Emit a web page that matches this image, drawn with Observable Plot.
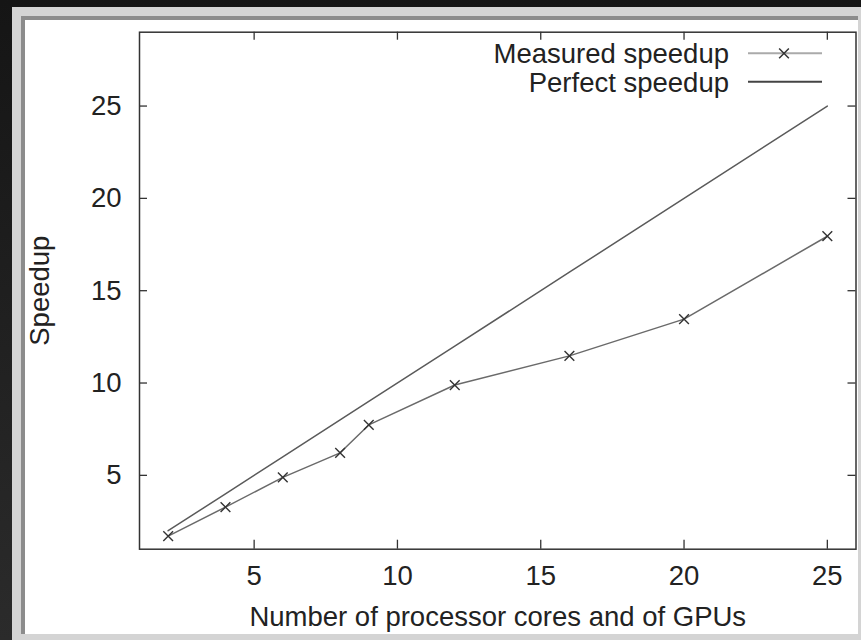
<!DOCTYPE html>
<html><head><meta charset="utf-8">
<script src="https://cdn.jsdelivr.net/npm/d3@7"></script>
<script src="https://cdn.jsdelivr.net/npm/@observablehq/plot@0.6"></script>
<style>
html,body{margin:0;padding:0;}
body{width:861px;height:640px;overflow:hidden;background:linear-gradient(#151515,#2b2b2b);position:relative;font-family:"Liberation Sans",Arial,sans-serif;}
#panel{position:absolute;left:12px;top:7px;width:849px;height:633px;background:#d4d4d4;}
#inner{position:absolute;left:9px;top:9px;right:3px;bottom:6px;background:#fff;border-left:4px solid #8c8c8c;border-top:4px solid #8c8c8c;}
#chart{position:absolute;left:0;top:0;}
.lg{position:absolute;font-size:27.5px;line-height:30px;color:#222;white-space:nowrap;text-align:right;}
#lgsvg{position:absolute;left:740px;top:40px;}
</style>
</head><body>
<div id="panel"><div id="inner"></div></div>
<div id="chart"></div>
<div class="lg" id="lg1" style="right:132px;top:38.5px;"></div>
<div class="lg" id="lg2" style="right:132px;top:67.5px;"></div>
<svg id="lgsvg" width="90" height="60"></svg>
<script>
// Data
const cores = [2, 4, 6, 8, 9, 12, 16, 20, 25];
const measured = [1.71, 3.28, 4.89, 6.22, 7.73, 9.89, 11.47, 13.46, 17.95];
const perfect = [2, 4, 6, 8, 9, 12, 16, 20, 25];
const xTicks = [5, 10, 15, 20, 25];
const yTicks = [5, 10, 15, 20, 25];
const seriesNames = ["Measured speedup", "Perfect speedup"];
const xLabel = "Number of processor cores and of GPUs";
const yLabel = "Speedup";

const measuredRows = cores.map((c, i) => ({x: c, y: measured[i]}));
const perfectRows = cores.map((c, i) => ({x: c, y: perfect[i]}));

const W = 861, H = 640;
const mL = 139, mR = 5.5, mT = 31.7, mB = 91.3;
const innerW = W - mL - mR, innerH = H - mT - mB;
const font = "27.5px";

const chart = Plot.plot({
  width: W, height: H,
  marginLeft: mL, marginRight: mR, marginTop: mT, marginBottom: mB,
  x: {domain: [1, 26]},
  y: {domain: [1, 29]},
  style: {background: "transparent", fontFamily: '"Liberation Sans", Arial, sans-serif', fontSize: font, color: "#222"},
  marks: [
    Plot.axisX({ticks: xTicks, tickSize: 0, tickPadding: 16, label: xLabel, labelAnchor: "center", labelOffset: 77, labelArrow: "none", fontSize: font}),
    Plot.axisY({ticks: yTicks, tickSize: 0, tickPadding: 18, label: yLabel, labelAnchor: "center", labelOffset: 110, labelArrow: "none", fontSize: font}),
    Plot.ruleX(xTicks, {x: d => d, insetTop: innerH - 9, stroke: "#333", strokeWidth: 1.3}),
    Plot.ruleX(xTicks, {x: d => d, insetBottom: innerH - 8, stroke: "#333", strokeWidth: 1.3}),
    Plot.ruleY(yTicks, {y: d => d, insetRight: innerW - 8, stroke: "#333", strokeWidth: 1.3}),
    Plot.ruleY(yTicks, {y: d => d, insetLeft: innerW - 8, stroke: "#333", strokeWidth: 1.3}),
    Plot.line(perfectRows, {x: "x", y: "y", stroke: "#5a5a5a", strokeWidth: 1.5}),
    Plot.line(measuredRows, {x: "x", y: "y", stroke: "#6a6a6a", strokeWidth: 1.5}),
    Plot.dot(measuredRows, {x: "x", y: "y", symbol: "times", r: 4.5, stroke: "#333", strokeWidth: 1.4}),
    Plot.frame({stroke: "#333", strokeWidth: 1.5})
  ]
});
document.getElementById("chart").appendChild(chart);

document.getElementById("lg1").textContent = seriesNames[0];
document.getElementById("lg2").textContent = seriesNames[1];
const s = d3.select("#lgsvg");
s.append("line").attr("x1", 8).attr("x2", 82).attr("y1", 13.3).attr("y2", 13.3).attr("stroke", "#aaa").attr("stroke-width", 2);
s.append("path").attr("d", d3.symbol(d3.symbolTimes, Math.PI * 4.5 * 4.5)()).attr("transform", "translate(44,13.3)").attr("stroke", "#333").attr("stroke-width", 1.5).attr("fill", "none");
s.append("line").attr("x1", 8).attr("x2", 82).attr("y1", 41.7).attr("y2", 41.7).attr("stroke", "#444").attr("stroke-width", 2);
</script>
</body></html>
